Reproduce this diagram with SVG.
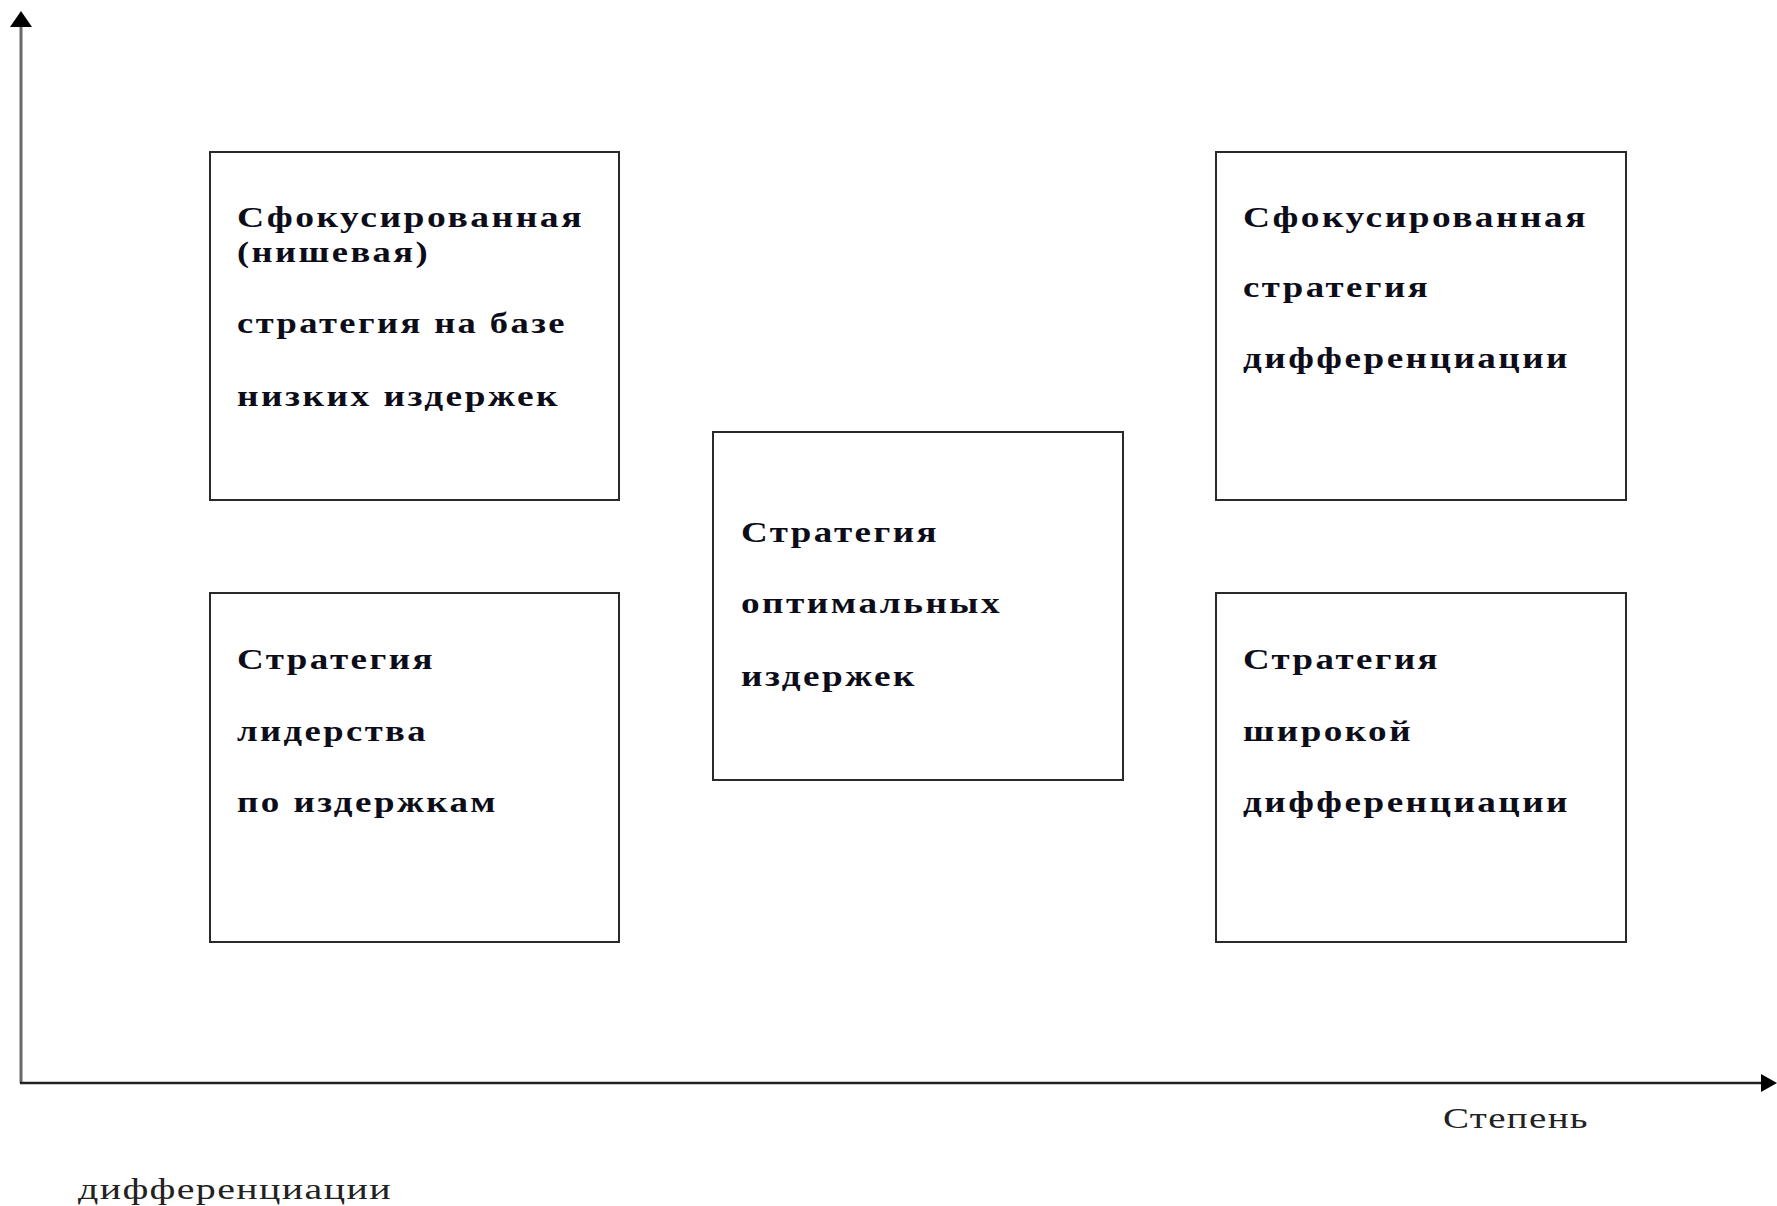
<svg xmlns="http://www.w3.org/2000/svg" width="1777" height="1206" viewBox="0 0 1777 1206">
<style>
.box{fill:#fff;stroke:#2a2a2a;stroke-width:2}
.t{font-family:"Liberation Serif","Times New Roman",serif;font-weight:bold;font-size:30px;letter-spacing:2px;fill:#0d0d1a}
.lbl{font-family:"Liberation Serif","Times New Roman",serif;font-size:29px;letter-spacing:1px;fill:#222}
.axis{stroke:#222;stroke-width:2.5;fill:none}
</style>
<rect width="1777" height="1206" fill="#fff"/>
<g id="connectors">
<line x1="21" y1="1083" x2="21" y2="20" style="stroke:#6a6a6a;stroke-width:3"/>
<path d="M21,11 L10,27 L32,27 z" fill="#000"/>
<line class="axis" x1="20" y1="1083" x2="1764" y2="1083"/>
<path d="M1777,1083 L1761,1074 L1761,1092 z" fill="#000"/>
</g>
<g id="node-focused-low-cost">
<rect class="box" x="210" y="152" width="409" height="348"/>
<text class="t" x="237" y="227" textLength="347" lengthAdjust="spacingAndGlyphs">Сфокусированная</text>
<text class="t" x="237" y="262" textLength="193" lengthAdjust="spacingAndGlyphs">(нишевая)</text>
<text class="t" x="237" y="333" textLength="330" lengthAdjust="spacingAndGlyphs">стратегия на базе</text>
<text class="t" x="237" y="406" textLength="323" lengthAdjust="spacingAndGlyphs">низких издержек</text>
</g>
<g id="node-cost-leadership">
<rect class="box" x="210" y="593" width="409" height="349"/>
<text class="t" x="237" y="669" textLength="198" lengthAdjust="spacingAndGlyphs">Стратегия</text>
<text class="t" x="237" y="741" textLength="191" lengthAdjust="spacingAndGlyphs">лидерства</text>
<text class="t" x="237" y="812" textLength="261" lengthAdjust="spacingAndGlyphs">по издержкам</text>
</g>
<g id="node-best-cost">
<rect class="box" x="713" y="432" width="410" height="348"/>
<text class="t" x="741" y="542" textLength="198" lengthAdjust="spacingAndGlyphs">Стратегия</text>
<text class="t" x="741" y="613" textLength="261" lengthAdjust="spacingAndGlyphs">оптимальных</text>
<text class="t" x="741" y="686" textLength="176" lengthAdjust="spacingAndGlyphs">издержек</text>
</g>
<g id="node-focused-differentiation">
<rect class="box" x="1216" y="152" width="410" height="348"/>
<text class="t" x="1243" y="227" textLength="345" lengthAdjust="spacingAndGlyphs">Сфокусированная</text>
<text class="t" x="1243" y="297" textLength="187" lengthAdjust="spacingAndGlyphs">стратегия</text>
<text class="t" x="1243" y="368" textLength="327" lengthAdjust="spacingAndGlyphs">дифференциации</text>
</g>
<g id="node-broad-differentiation">
<rect class="box" x="1216" y="593" width="410" height="349"/>
<text class="t" x="1243" y="669" textLength="197" lengthAdjust="spacingAndGlyphs">Стратегия</text>
<text class="t" x="1243" y="741" textLength="170" lengthAdjust="spacingAndGlyphs">широкой</text>
<text class="t" x="1243" y="812" textLength="327" lengthAdjust="spacingAndGlyphs">дифференциации</text>
</g>
<g id="axis-labels">
<text class="lbl" x="1443" y="1128" textLength="146" lengthAdjust="spacingAndGlyphs">Степень</text>
<text class="lbl" x="78" y="1199" textLength="314" lengthAdjust="spacingAndGlyphs">дифференциации</text>
</g>
</svg>
